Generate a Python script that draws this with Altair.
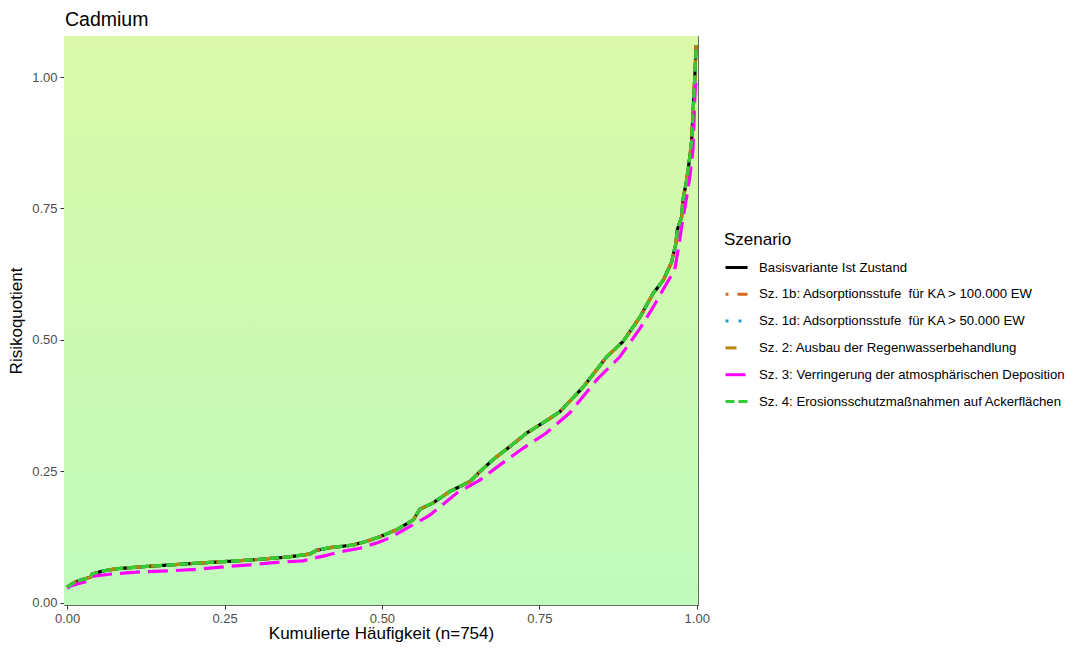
import altair as alt
import pandas as pd

# ---- data ----
scenarios = [
    "Basisvariante Ist Zustand",
    "Sz. 1b: Adsorptionsstufe\u00a0 für KA > 100.000 EW",
    "Sz. 1d: Adsorptionsstufe\u00a0 für KA > 50.000 EW",
    "Sz. 2: Ausbau der Regenwasserbehandlung",
    "Sz. 3: Verringerung der atmosphärischen Deposition",
    "Sz. 4: Erosionsschutzmaßnahmen auf Ackerflächen",
]
colors = ["#000000", "#D2691E", "#1E9BD0", "#B8860B", "#FF00FF", "#32CD32"]
dashes = [[1, 0], [3, 9, 11, 9], [3, 10], [11, 11], [20, 8], [9, 4]]

# cumulative frequency (x) and risk quotient for the base case
# (Sz. 1b, 1d, 2 and 4 lie on the same curve in the picture)
base_x = [0.000, 0.013, 0.037, 0.040, 0.058, 0.079, 0.121, 0.174, 0.227, 0.256,
          0.296, 0.349, 0.386, 0.396, 0.417, 0.454, 0.478, 0.497, 0.523, 0.550,
          0.560, 0.581, 0.608, 0.640, 0.656, 0.677, 0.703, 0.730, 0.767, 0.783,
          0.820, 0.857, 0.883, 0.910, 0.931, 0.947, 0.960, 0.967, 0.969, 0.976,
          0.978, 0.984, 0.989, 0.992, 0.994, 0.997, 0.999]
base_v = [0.030, 0.040, 0.049, 0.055, 0.061, 0.065, 0.069, 0.073, 0.077, 0.079,
          0.082, 0.087, 0.093, 0.100, 0.105, 0.110, 0.118, 0.126, 0.139, 0.158,
          0.178, 0.190, 0.212, 0.231, 0.250, 0.273, 0.297, 0.323, 0.351, 0.364,
          0.411, 0.468, 0.497, 0.544, 0.589, 0.614, 0.648, 0.684, 0.709, 0.734,
          0.766, 0.804, 0.848, 0.880, 0.931, 1.001, 1.061]

# Sz. 3 (lower curve)
sz3_x = [0.000, 0.005, 0.029, 0.042, 0.071, 0.116, 0.163, 0.208, 0.253, 0.285,
         0.333, 0.375, 0.391, 0.407, 0.433, 0.465, 0.494, 0.513, 0.544, 0.576,
         0.619, 0.656, 0.687, 0.724, 0.761, 0.798, 0.841, 0.878, 0.910, 0.931,
         0.949, 0.965, 0.973, 0.976, 0.984, 0.989, 0.994, 0.997, 0.999]
sz3_v = [0.028, 0.032, 0.040, 0.051, 0.055, 0.059, 0.061, 0.064, 0.069, 0.072,
         0.077, 0.080, 0.085, 0.089, 0.097, 0.104, 0.115, 0.124, 0.145, 0.167,
         0.209, 0.234, 0.262, 0.294, 0.323, 0.361, 0.424, 0.468, 0.522, 0.563,
         0.601, 0.633, 0.690, 0.715, 0.772, 0.810, 0.861, 0.963, 1.000]

x_ticks = [0, 0.25, 0.5, 0.75, 1.0]
y_ticks = [0, 0.25, 0.5, 0.75, 1.0]

rows = []
for i, s in enumerate(scenarios):
    xs, vs = (sz3_x, sz3_v) if i == 4 else (base_x, base_v)
    for k, (a, b) in enumerate(zip(xs, vs)):
        rows.append({"szenario": s, "x": a, "v": b, "ord": k})
df = pd.DataFrame(rows)

W, H = 634, 569
FONT = "Liberation Sans"

color_enc = alt.Color(
    "szenario:N",
    scale=alt.Scale(domain=scenarios, range=colors),
    title="Szenario",
)
dash_enc = alt.StrokeDash(
    "szenario:N",
    scale=alt.Scale(domain=scenarios, range=dashes),
    title="Szenario",
)
x_enc = alt.X(
    "x:Q",
    scale=alt.Scale(domain=[-0.005, 1.002], nice=False, zero=False),
    axis=alt.Axis(values=x_ticks, format=".2f", title="Kumulierte Häufigkeit (n=754)"),
)
y_enc = alt.Y(
    "v:Q",
    scale=alt.Scale(domain=[-0.004, 1.078], nice=False, zero=False),
    axis=alt.Axis(values=y_ticks, format=".2f", title="Risikoquotient"),
)

gradient = alt.LinearGradient(
    gradient="linear",
    stops=[
        alt.GradientStop(color="#dbf9a9", offset=0),
        alt.GradientStop(color="#c0fbbc", offset=1),
    ],
    x1=0, x2=0, y1=0, y2=1,
)
bg = alt.Chart(pd.DataFrame({"a": [0]})).mark_rect(fill=gradient).encode(
    x=alt.value(0), x2=alt.value(W), y=alt.value(0), y2=alt.value(H)
)

layers = [bg]
for s in scenarios:
    layers.append(
        alt.Chart(df)
        .transform_filter(alt.datum.szenario == s)
        .mark_line(strokeWidth=3.2, clip=True)
        .encode(x=x_enc, y=y_enc, color=color_enc, strokeDash=dash_enc,
                order="ord:Q")
    )

chart = (
    alt.layer(*layers)
    .properties(
        width=W,
        height=H,
        title=alt.TitleParams("Cadmium", anchor="start", frame="group",
                              fontSize=19.5, font=FONT, fontWeight="normal",
                              color="#000", offset=6, dx=1),
        autosize=alt.AutoSizeParams(type="none"),
        padding={"left": 56, "top": 28, "right": 373, "bottom": 38},
    )
    .configure_view(stroke="#666666", strokeWidth=1)
    .configure_axis(
        domain=False,
        grid=False,
        tickColor="#333333",
        tickSize=4,
        labelFont=FONT,
        labelFontSize=13,
        labelColor="#4d4d4d",
        labelPadding=3,
        titleFont=FONT,
        titleFontSize=17,
        titleFontWeight="normal",
        titleColor="#000",
    )
    .configure_axisX(titlePadding=0)
    .configure_axisY(titlePadding=6)
    .configure_legend(
        orient="none",
        legendX=660,
        legendY=196,
        symbolType="stroke",
        symbolSize=484,
        symbolStrokeWidth=3,
        labelFont=FONT,
        labelFontSize=13.2,
        labelColor="#000",
        labelLimit=400,
        labelOffset=10,
        titleFont=FONT,
        titleFontSize=17,
        titleFontWeight="normal",
        titleColor="#000",
        titlePadding=6,
        rowPadding=7.8,
    )
)

chart.save("out.html", embed_options={"renderer": "svg", "actions": False})
